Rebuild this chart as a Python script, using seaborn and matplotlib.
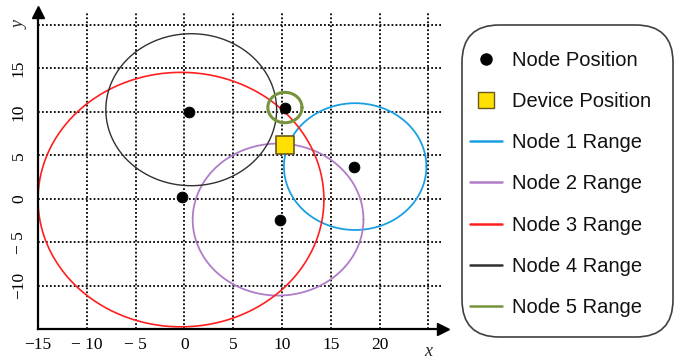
import numpy as np
import pandas as pd
import matplotlib
matplotlib.use("Agg")
import matplotlib.pyplot as plt
from matplotlib.lines import Line2D
from matplotlib.patches import FancyBboxPatch
import seaborn as sns

# Node positions
node_x = [17.4, 9.8, -0.2, 0.5, 10.3]
node_y = [3.6, -2.4, 0.2, 10.0, 10.5]

# Device position
device_x = [10.3]
device_y = [6.2]

# Range circles (one per node)
range_names = ["Node 1 Range", "Node 2 Range", "Node 3 Range", "Node 4 Range", "Node 5 Range"]
range_cx = [17.5, 9.6, -0.35, 0.7, 10.3]
range_cy = [3.7, -2.4, -0.1, 10.25, 10.5]
range_r = [7.3, 8.75, 14.65, 8.75, 1.75]
range_colors = ["#1A9FE3", "#B07CC8", "#FF1F1F", "#303030", "#77933C"]
range_widths = [1.3, 1.3, 1.2, 1.0, 2.2]

x_ticks = [-15, -10, -5, 0, 5, 10, 15, 20]
x_tick_labels = ["\u221215", "\u2212 10", "\u2212 5", "0", "5", "10", "15", "20"]
y_ticks = [-10, -5, 0, 5, 10, 15]
y_tick_labels = ["\u221210", "\u2212 5", "0", "5", "10", "15"]

sns.set_theme(style="white")
plt.rcParams["font.family"] = ["Liberation Sans", "DejaVu Sans"]

W, H = 678, 359
fig = plt.figure(figsize=(W / 100, H / 100), dpi=100)
ax = fig.add_axes([38 / W, 1 - 329 / H, (443 - 38) / W, (329 - 12) / H])

# dotted grid
for gx in range(-10, 30, 5):
    ax.axvline(gx, color="black", ls=(0, (1, 1.2)), lw=1.3, zorder=0)
for gy in range(-10, 25, 5):
    ax.axhline(gy, color="black", ls=(0, (1, 1.2)), lw=1.3, zorder=0)

# range circles
theta = np.linspace(0, 2 * np.pi, 400)
for name, cx, cy, r, c, w in zip(range_names, range_cx, range_cy, range_r, range_colors, range_widths):
    df = pd.DataFrame({"x": cx + r * np.cos(theta), "y": cy + r * np.sin(theta)})
    sns.lineplot(data=df, x="x", y="y", sort=False, estimator=None, color=c, lw=w, ax=ax, zorder=2)

# node and device markers
sns.scatterplot(x=node_x, y=node_y, color="black", s=60, edgecolor="black", ax=ax, zorder=4)
sns.scatterplot(x=device_x, y=device_y, color="#FFE000", marker="s", s=150,
                edgecolor="#6B5A1E", linewidth=1.2, ax=ax, zorder=5)

ax.set_xlim(-15, 26.5)
ax.set_ylim(-15, 21.5)
ax.set_xlabel("")
ax.set_ylabel("")

for side in ["top", "right"]:
    ax.spines[side].set_visible(False)
for side in ["left", "bottom"]:
    ax.spines[side].set_color("black")
    ax.spines[side].set_linewidth(1.6)

# axis arrows
ax.plot([0], [1], marker="^", color="black", markersize=9, transform=ax.transAxes, clip_on=False, zorder=6)
ax.plot([1], [0], marker=">", color="black", markersize=9, transform=ax.transAxes, clip_on=False, zorder=6)

serif = ["Liberation Serif", "DejaVu Serif"]
ax.set_xticks(x_ticks)
ax.set_xticklabels(x_tick_labels, family=serif, fontsize=12.5)
ax.set_yticks(y_ticks)
ax.set_yticklabels(y_tick_labels, family=serif, fontsize=12.5, rotation=90, va="center")
ax.tick_params(axis="both", length=0, colors="black")
ax.tick_params(axis="x", pad=6)
ax.tick_params(axis="y", pad=8)

fig.text(20 / W, 1 - 25 / H, "y", family=serif, style="italic", fontsize=13,
         rotation=90, ha="center", va="center")
fig.text(428 / W, 1 - 352 / H, "x", family=serif, style="italic", fontsize=13,
         ha="center", va="center")

# legend box with rounded corners
box = FancyBboxPatch((462 / W, 1 - 337 / H), (673 - 462) / W, (337 - 25) / H,
                     boxstyle="round,pad=0,rounding_size=0.055", transform=fig.transFigure,
                     facecolor="white", edgecolor="#404040", linewidth=1.2, zorder=0)
box.set_mutation_aspect(W / H)
fig.patches.append(box)

handles = [
    Line2D([], [], ls="none", marker="o", color="black", markersize=8),
    Line2D([], [], ls="none", marker="s", markerfacecolor="#FFE000", markeredgecolor="#6B5A1E",
           markersize=11),
]
for c in range_colors:
    handles.append(Line2D([], [], color=c, lw=1.8))
labels = ["Node Position", "Device Position"] + range_names

leg = fig.legend(handles, labels, loc="upper left", bbox_to_anchor=(470 / W, 1 - 51 / H),
                 fontsize=14.5, frameon=False, labelspacing=1.1,
                 handlelength=1.6, handletextpad=0.5, borderpad=0, borderaxespad=0)
for t in leg.get_texts():
    t.set_color("#111111")

fig.savefig("out.png", dpi=100)
